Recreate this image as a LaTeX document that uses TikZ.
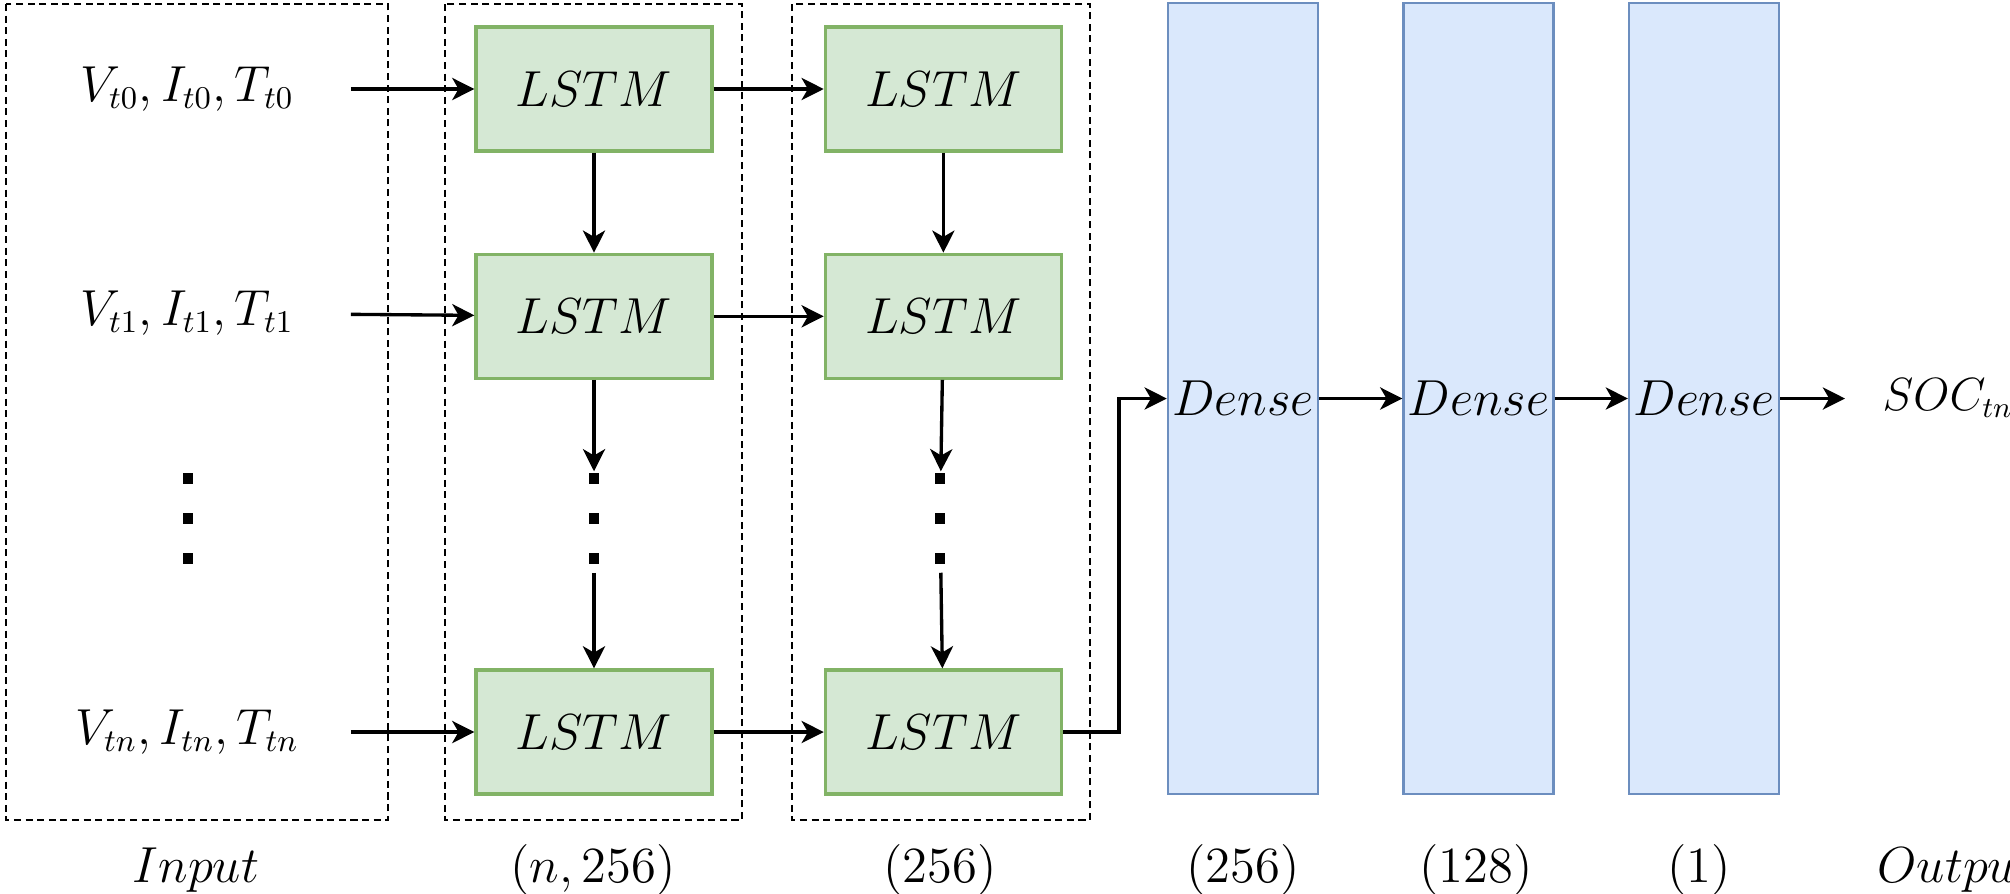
\documentclass[tikz,border=0pt]{standalone}
\usepackage{amssymb,amsmath}
\usepackage{tikz}
\usetikzlibrary{arrows.meta,positioning,calc}
\definecolor{lstmfill}{HTML}{D5E8D4}
\definecolor{lstmline}{HTML}{82B366}
\definecolor{densefill}{HTML}{DAE8FC}
\definecolor{denseline}{HTML}{6C8EBF}

\begin{document}
\begin{tikzpicture}
    [x=0.01cm,y=-0.01cm,every node/.style={font=\fontsize{13.3}{16}\selectfont},
    lstm/.style={rectangle,draw=lstmline,fill=lstmfill,line width=0.9pt,minimum width=2.36cm,minimum height=1.24cm},
    dense/.style={rectangle,draw=denseline,fill=densefill,line width=0.7pt,inner xsep=0pt,minimum width=1.5cm,minimum height=7.91cm},
    inp/.style={minimum width=3.26cm,inner sep=0pt},
    dashbox/.style={draw=black,line width=0.6pt,dash pattern=on 2pt off 1.3pt},
    dotcol/.style={minimum width=0.1cm,minimum height=1cm,inner sep=0pt,
        path picture={\foreach \k in {0,1,2}{\fill ([yshift=-\k*0.4cm-0.01cm]path picture bounding box.north west) rectangle ++(0.1cm,-0.11cm);}}},
    arr/.style={-{Stealth[length=6.3pt,width=6.3pt,inset=1.8pt]},line width=0.95pt}]

    \path[use as bounding box] (0,0) rectangle (2010,893);

    % groups
    \draw[dashbox] (6,4) rectangle (388,820);
    \draw[dashbox] (445,4) rectangle (742,820);
    \draw[dashbox] (792,4) rectangle (1090,820);

    % inputs
    \node[inp] (v0) at (187,89) {$V_{t0}, I_{t0}, T_{t0}$};
    \node[inp] (v1) at (187,313) {$V_{t1}, I_{t1}, T_{t1}$};
    \node[dotcol] (vd) at (188,522) {};
    \node[inp] (vn) at (187,732) {$V_{tn}, I_{tn}, T_{tn}$};

    % first lstm layer
    \node[lstm] (l0) at (594,89) {$LSTM$};
    \node[lstm,below=1cm of l0] (l1) {$LSTM$};
    \node[dotcol] (ld) at (594,522) {};
    \node[lstm] (ln) at (594,732) {$LSTM$};

    % second lstm layer
    \node[lstm,right=1.1cm of l0] (m0) {$LSTM$};
    \node[lstm,right=1.1cm of l1] (m1) {$LSTM$};
    \node[dotcol] (md) at (940,522) {};
    \node[lstm,right=1.1cm of ln] (mn) {$LSTM$};

    % dense layers
    \node[dense] (d1) at (1243,398.5) {$Dense$};
    \node[dense,right=0.83cm of d1] (d2) {$Dense$};
    \node[dense,right=0.73cm of d2] (d3) {$Dense$};
    \node[anchor=west,inner sep=0pt] (soc) at (1882,398) {\scalebox{0.92}{$SOC_{tn}$}};

    % sizes
    \node (sinp) at (196,870) {$Input$};
    \node (s1) at (593,870) {$(n,256)$};
    \node (s2) at (940,870) {$(256)$};
    \node (s3) at (1243,870) {$(256)$};
    \node (s4) at (1476,870) {$(128)$};
    \node (s5) at (1699,870) {$(1)$};
    \node[anchor=west,inner sep=0pt] (sout) at (1877,870) {$Output$};

    \draw[arr] (v0) -- (l0);
    \draw[arr] (v1) -- (l1);
    \draw[arr] (vn) -- (ln);
    \draw[arr] (l0) -- (m0);
    \draw[arr] (l1) -- (m1);
    \draw[arr] (ln) -- (mn);
    \draw[arr] (l0) -- (l1);
    \draw[arr] (l1) -- (ld);
    \draw[arr] (ld) -- (ln);
    \draw[arr] (m0) -- (m1);
    \draw[arr] (m1) -- (md);
    \draw[arr] (md) -- (mn);
    \draw[arr] (mn.east) -- ++(56,0) |- (d1.west);
    \draw[arr] (d1) -- (d2);
    \draw[arr] (d2) -- (d3);
    \draw[arr,shorten >=0.37cm] (d3.east) -- (soc.west |- d3.east);
\end{tikzpicture}
\end{document}
